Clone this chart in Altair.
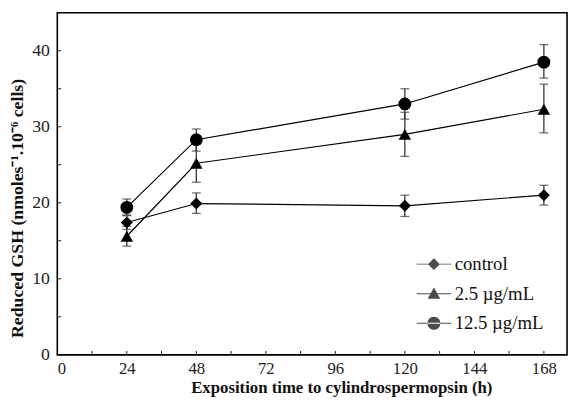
import altair as alt
import pandas as pd

# ---- data ----
times = [24, 48, 120, 168]
series_names = ["control", "2.5 µg/mL", "12.5 µg/mL"]
control = [17.4, 19.9, 19.6, 21.0]
control_lo = [16.5, 18.6, 18.2, 19.7]
control_hi = [18.3, 21.3, 21.0, 22.3]
dose25 = [15.6, 25.2, 29.0, 32.3]
dose25_lo = [14.3, 22.7, 26.1, 29.2]
dose25_hi = [16.9, 27.7, 31.9, 35.6]
dose125 = [19.4, 28.3, 33.0, 38.5]
dose125_lo = [18.4, 26.8, 31.0, 36.4]
dose125_hi = [20.5, 29.7, 35.0, 40.8]

x_ticks = [0, 24, 48, 72, 96, 120, 144, 168]
x_minor = [12, 36, 60, 84, 108, 132, 156]
y_ticks = [0, 10, 20, 30, 40]
y_minor = [5, 15, 25, 35]

rows = []
for name, vals, lo, hi in [
    (series_names[0], control, control_lo, control_hi),
    (series_names[1], dose25, dose25_lo, dose25_hi),
    (series_names[2], dose125, dose125_lo, dose125_hi),
]:
    for t, v, l, h in zip(times, vals, lo, hi):
        rows.append({"time": t, "value": v, "lo": l, "hi": h, "series": name})
df = pd.DataFrame(rows)
caps = pd.concat([
    df[["time", "series"]].assign(cap=df["lo"]),
    df[["time", "series"]].assign(cap=df["hi"]),
])

FONT = "Liberation Serif"
W, H = 517, 347
xs = alt.Scale(domain=[0, 176], nice=False, zero=False)
ys = alt.Scale(domain=[0, 45], nice=False)

base = alt.Chart(df)

x_enc = alt.X("time:Q", scale=xs,
              axis=alt.Axis(values=x_ticks, title="Exposition time to cylindrospermopsin (h)",
                            tickSize=0, labelPadding=19, labelBaseline="alphabetic",
                            grid=False, domain=False,
                            labelFont=FONT, labelFontSize=17, labelColor="#222",
                            titleFont=FONT, titleFontSize=17, titleFontWeight="bold",
                            titleColor="#111", titleBaseline="alphabetic",
                            titleX=288, titleY=38))
y_enc = alt.Y("value:Q", scale=ys,
              axis=alt.Axis(values=y_ticks, title="Reduced GSH (nmoles⁻¹.10⁻⁶ cells)",
                            tickSize=0, labelPadding=8, grid=False, domain=False,
                            labelFont=FONT, labelFontSize=18, labelColor="#222",
                            titleFont=FONT, titleFontSize=18, titleFontWeight="bold",
                            titleColor="#111", titleBaseline="alphabetic",
                            titleX=-35, titleY=198))

lines = base.mark_line(color="black", strokeWidth=1.2).encode(
    x=x_enc, y=y_enc, detail="series:N")

err = base.mark_rule(color="#333", strokeWidth=1.3).encode(
    x=alt.X("time:Q", scale=xs), y=alt.Y("lo:Q", scale=ys), y2="hi:Q")

capmarks = alt.Chart(caps).mark_tick(orient="horizontal", size=9, thickness=1.3, color="#333").encode(
    x=alt.X("time:Q", scale=xs), y=alt.Y("cap:Q", scale=ys))

points = base.mark_point(filled=True, color="black", opacity=1).encode(
    x=alt.X("time:Q", scale=xs), y=alt.Y("value:Q", scale=ys),
    shape=alt.Shape("series:N", sort=series_names,
                    scale=alt.Scale(domain=series_names, range=["diamond", "triangle-up", "circle"]),
                    legend=None),
    size=alt.Size("series:N", sort=series_names,
                  scale=alt.Scale(domain=series_names, range=[150, 170, 180]),
                  legend=None))

bar = "M-1.75,-0.05H1.75V0.05H-1.75Z"
leg_paths = [
    bar + "M0,-0.6L0.6,0L0,0.6L-0.6,0Z",
    bar + "M0,-0.62L0.64,0.52L-0.64,0.52Z",
    bar + "M-0.66,0A0.66,0.66 0 1,0 0.66,0A0.66,0.66 0 1,0 -0.66,0Z",
]
legend_layer = base.mark_point(filled=True, color="black", size=0).encode(
    x=alt.X("time:Q", scale=xs), y=alt.Y("value:Q", scale=ys),
    shape=alt.Shape("series:N", sort=series_names,
                    scale=alt.Scale(domain=series_names, range=leg_paths),
                    legend=alt.Legend(title=None, orient="none", legendX=372, legendY=245,
                                      symbolSize=400, symbolFillColor="black",
                                      symbolStrokeWidth=0, labelOffset=11,
                                      labelFont=FONT, labelFontSize=19, labelColor="#111",
                                      rowPadding=10, padding=0, labelLimit=200)))

tick_df_x = pd.DataFrame({"t": x_ticks[1:] + x_minor})
tick_df_y = pd.DataFrame({"v": y_ticks[1:] + y_minor})
xt = alt.Chart(tick_df_x).mark_rule(color="#222", strokeWidth=1).encode(
    x=alt.X("t:Q", scale=xs), y=alt.value(H), y2=alt.value(H - 4))
yt = alt.Chart(tick_df_y).mark_rule(color="#222", strokeWidth=1).encode(
    y=alt.Y("v:Q", scale=ys), x=alt.value(0), x2=alt.value(4))

chart = alt.layer(lines, err, capmarks, points, legend_layer, xt, yt).resolve_scale(
    shape="independent"
).properties(
    width=W, height=H,
    autosize=alt.AutoSizeParams(type="none"),
    padding={"left": 50, "top": 2, "right": 3, "bottom": 41},
    background="white",
).configure_view(stroke="black", strokeWidth=1.6)

chart.save("out.html", embed_options={"renderer": "svg", "actions": False})
